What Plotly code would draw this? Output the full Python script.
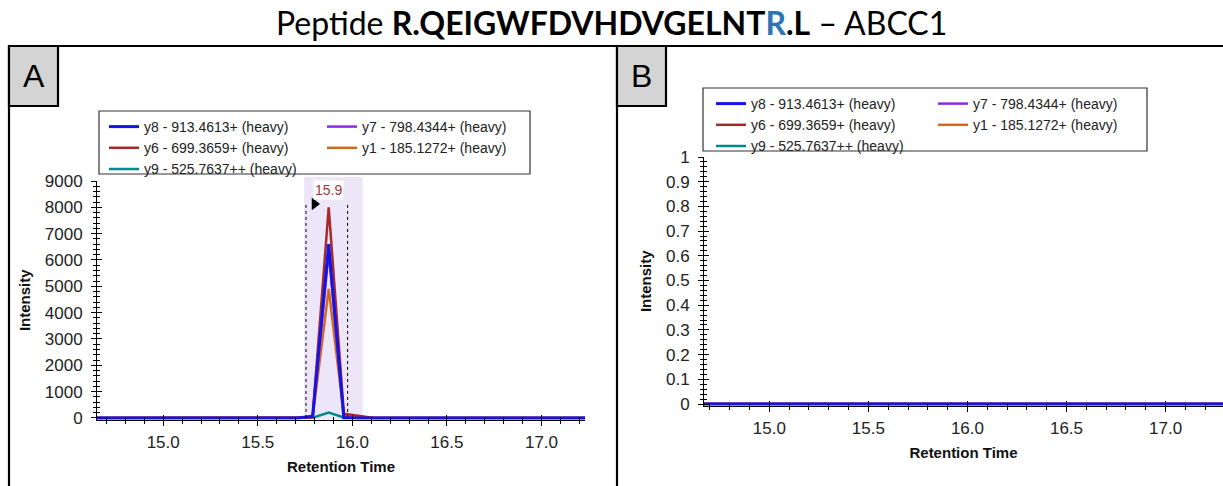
import plotly.graph_objects as go

W, H = 1223, 486

# ---------------- data ----------------
ion_names = ["y8 - 913.4613+ (heavy)", "y7 - 798.4344+ (heavy)", "y6 - 699.3659+ (heavy)",
             "y1 - 185.1272+ (heavy)", "y9 - 525.7637++ (heavy)"]
ion_colors = ["#1414e6", "#8a2be2", "#a52a2a", "#d2691e", "#008b8b"]

# Panel A (retention time, min)
rt_a = [14.65, 15.71, 15.79, 15.875, 15.955, 16.035, 16.115, 17.25]
y8_a = [0, 0, 60, 6600, 0, 0, 0, 0]
y7_a = [0, 0, 40, 6300, 40, 0, 0, 0]
y6_a = [0, 0, 30, 8000, 160, 70, 0, 0]
y1_a = [0, 0, 20, 4900, 100, 40, 0, 0]
y9_a = [0, 0, 10, 200, 20, 0, 0, 0]

# Panel B
rt_b = [14.67, 15.5, 16.5, 17.29]
y8_b = [0, 0, 0, 0]
y7_b = [0, 0, 0, 0]
y6_b = [0, 0, 0, 0]
y1_b = [0, 0, 0, 0]
y9_b = [0, 0, 0, 0]

peak_apex = 15.875
peak_label = "15.9"
integ_start, integ_end = 15.755, 15.975
shade_start, shade_end = 15.745, 16.055
arrow_rt, arrow_int = 15.80, 8130

FONT = "Liberation Sans, Arial, sans-serif"


def px(x):
    return x / W


def py(y):
    return 1 - y / H


fig = go.Figure()

series_a = [y8_a, y7_a, y6_a, y1_a, y9_a]
series_b = [y8_b, y7_b, y6_b, y1_b, y9_b]
widths = [3, 2.5, 2.5, 2.5, 2.5]
leg_col = [0, 1, 0, 1, 0]
draw_order = [4, 3, 1, 2, 0]  # blue drawn last

for i in draw_order:
    fig.add_trace(go.Scatter(
        x=rt_a, y=series_a[i], mode="lines", name=ion_names[i],
        line=dict(color=ion_colors[i], width=widths[i]),
        legend="legend" if leg_col[i] == 0 else "legend2",
        legendrank=i + 1, xaxis="x", yaxis="y", hoverinfo="skip"))
for i in draw_order:
    fig.add_trace(go.Scatter(
        x=rt_b, y=series_b[i], mode="lines", name=ion_names[i],
        line=dict(color=ion_colors[i], width=widths[i]),
        legend="legend3" if leg_col[i] == 0 else "legend4",
        legendrank=i + 1, xaxis="x2", yaxis="y2", hoverinfo="skip"))

fig.add_trace(go.Scatter(x=[arrow_rt], y=[arrow_int], mode="markers",
                         marker=dict(symbol="triangle-right", size=11, color="black"),
                         showlegend=False, xaxis="x", yaxis="y", hoverinfo="skip"))

# empty traces so the overlay axes (inner half of the crossing ticks) get drawn
for xa, ya in (("x3", "y"), ("x", "y3"), ("x4", "y2"), ("x2", "y4")):
    fig.add_trace(go.Scatter(x=[], y=[], mode="lines", showlegend=False,
                             xaxis=xa, yaxis=ya, hoverinfo="skip"))

# ---------------- axes ----------------
xr_a = [14.65, 17.23]
yr_a = [-60, 9000]
xr_b = [14.67, 17.29]
yr_b = [-0.006, 1]

dom_xa = [px(97), px(585)]
dom_ya = [py(419.5), py(181)]
dom_xb = [px(704), 1.0]
dom_yb = [py(405.5), py(157)]

tickfont = dict(family=FONT, size=17, color="#222")
titlefont = dict(family=FONT, size=15, color="#111", weight="bold")

common = dict(showgrid=False, zeroline=False, linecolor="black", linewidth=1,
              tickcolor="black", tickwidth=1, automargin=False, fixedrange=True)


def xaxis_main(dom, rng, anchor):
    return dict(domain=dom, range=rng, anchor=anchor, ticks="outside", ticklen=5,
                tickmode="linear", tick0=15.0, dtick=0.5, tickformat=".1f", tickfont=tickfont,
                ticklabelstandoff=2,
                minor=dict(tickmode="linear", tick0=15.0, dtick=0.1, ticks="outside",
                           ticklen=3, tickwidth=1, tickcolor="black"),
                title=dict(text="Retention Time", font=titlefont, standoff=10),
                showline=True, **common)


def xaxis_over(rng, over, anchor):
    return dict(overlaying=over, range=rng, anchor=anchor, side="bottom", ticks="inside",
                ticklen=5, tickmode="linear", tick0=15.0, dtick=0.5, showticklabels=False,
                minor=dict(tickmode="linear", tick0=15.0, dtick=0.1, ticks="inside",
                           ticklen=3, tickwidth=1, tickcolor="black"),
                showline=False, **common)


def yaxis_main(dom, rng, anchor, dtick, mdt):
    return dict(domain=dom, range=rng, anchor=anchor, ticks="outside", ticklen=5,
                tickmode="linear", tick0=0, dtick=dtick, tickfont=tickfont, ticklabelstandoff=5,
                minor=dict(tickmode="linear", tick0=0, dtick=mdt, ticks="outside",
                           ticklen=3, tickwidth=1, tickcolor="black"),
                title=dict(text="Intensity", font=titlefont, standoff=10),
                showline=True, **common)


def yaxis_over(rng, over, anchor, dtick, mdt):
    return dict(overlaying=over, range=rng, anchor=anchor, side="left", ticks="inside",
                ticklen=5, tickmode="linear", tick0=0, dtick=dtick, showticklabels=False,
                minor=dict(tickmode="linear", tick0=0, dtick=mdt, ticks="inside",
                           ticklen=3, tickwidth=1, tickcolor="black"),
                showline=False, **common)


fig.update_layout(
    xaxis=xaxis_main(dom_xa, xr_a, "y"),
    yaxis=yaxis_main(dom_ya, yr_a, "x", 1000, 200),
    xaxis2=xaxis_main(dom_xb, xr_b, "y2"),
    yaxis2=yaxis_main(dom_yb, yr_b, "x2", 0.1, 0.02),
    xaxis3=xaxis_over(xr_a, "x", "y"),
    yaxis3=yaxis_over(yr_a, "y", "x", 1000, 200),
    xaxis4=xaxis_over(xr_b, "x2", "y2"),
    yaxis4=yaxis_over(yr_b, "y2", "x2", 0.1, 0.02),
)

# ---------------- legends ----------------
legfont = dict(family=FONT, size=14, color="#222")


def leg(xp, yp):
    return dict(x=px(xp), y=py(yp), xanchor="left", yanchor="top", orientation="v",
                bgcolor="rgba(0,0,0,0)", borderwidth=0, font=legfont,
                itemclick=False, itemdoubleclick=False, tracegroupgap=0,
                traceorder="normal")


fig.update_layout(
    legend=leg(104, 111),
    legend2=leg(322, 111),
    legend3=leg(711, 88),
    legend4=leg(933, 88),
)

# ---------------- shapes ----------------
shapes = []
shapes.append(dict(type="rect", xref="x", yref="paper", x0=shade_start, x1=shade_end,
                   y0=dom_ya[0], y1=py(177), fillcolor="#ece6f8", line=dict(width=0),
                   layer="below"))
for xv in (integ_start, integ_end):
    shapes.append(dict(type="line", xref="x", yref="y", x0=xv, x1=xv, y0=0, y1=arrow_int,
                       line=dict(color="black", width=1, dash="dot")))
# legend boxes
shapes.append(dict(type="rect", xref="paper", yref="paper", x0=px(99), x1=px(530),
                   y0=py(174), y1=py(111), line=dict(color="#333", width=1.2)))
shapes.append(dict(type="rect", xref="paper", yref="paper", x0=px(703), x1=px(1147),
                   y0=py(151), y1=py(88), line=dict(color="#333", width=1.2)))
# figure frame
shapes.append(dict(type="line", xref="paper", yref="paper", x0=px(9), x1=1.0,
                   y0=py(46), y1=py(46), line=dict(color="black", width=2.2)))
shapes.append(dict(type="line", xref="paper", yref="paper", x0=px(9), x1=px(9),
                   y0=py(46), y1=0, line=dict(color="black", width=2.2)))
shapes.append(dict(type="line", xref="paper", yref="paper", x0=px(617), x1=px(617),
                   y0=py(46), y1=0, line=dict(color="black", width=2.2)))
for x0 in (9, 617):
    shapes.append(dict(type="rect", xref="paper", yref="paper", x0=px(x0), x1=px(x0 + 49),
                       y0=py(106), y1=py(46), fillcolor="#d4d4d4",
                       line=dict(color="black", width=2.2)))
fig.update_layout(shapes=shapes)

# ---------------- annotations ----------------
ann = []
ann.append(dict(xref="paper", yref="paper", x=0.5, y=py(22), xanchor="center", yanchor="middle",
                showarrow=False,
                text=("Peptide <b>R.QEIGWFDVHDVGELNT</b><b><span style='color:#2e75b6'>R</span></b>"
                      "<b>.L</b> \u2013 ABCC1"),
                font=dict(family="Lato, Open Sans, sans-serif", size=32, color="black")))
for x0, lab in ((9, "A"), (617, "B")):
    ann.append(dict(xref="paper", yref="paper", x=px(x0 + 24.5), y=py(76), xanchor="center",
                    yanchor="middle", showarrow=False, text=lab,
                    font=dict(family=FONT, size=32, color="black")))
ann.append(dict(xref="x", yref="paper", x=peak_apex, y=py(190), xanchor="center",
                yanchor="middle", showarrow=False, text=peak_label, bgcolor="white",
                borderpad=1, font=dict(family=FONT, size=14, color="#a0353a")))
fig.update_layout(annotations=ann)

fig.update_layout(
    width=W, height=H, margin=dict(l=0, r=0, t=0, b=0),
    paper_bgcolor="white", plot_bgcolor="white",
    showlegend=True, hovermode=False,
)

fig.write_html("out.html", config={"displayModeBar": False},
               post_script="document.body.style.margin='0px';document.body.style.overflow='hidden';")
